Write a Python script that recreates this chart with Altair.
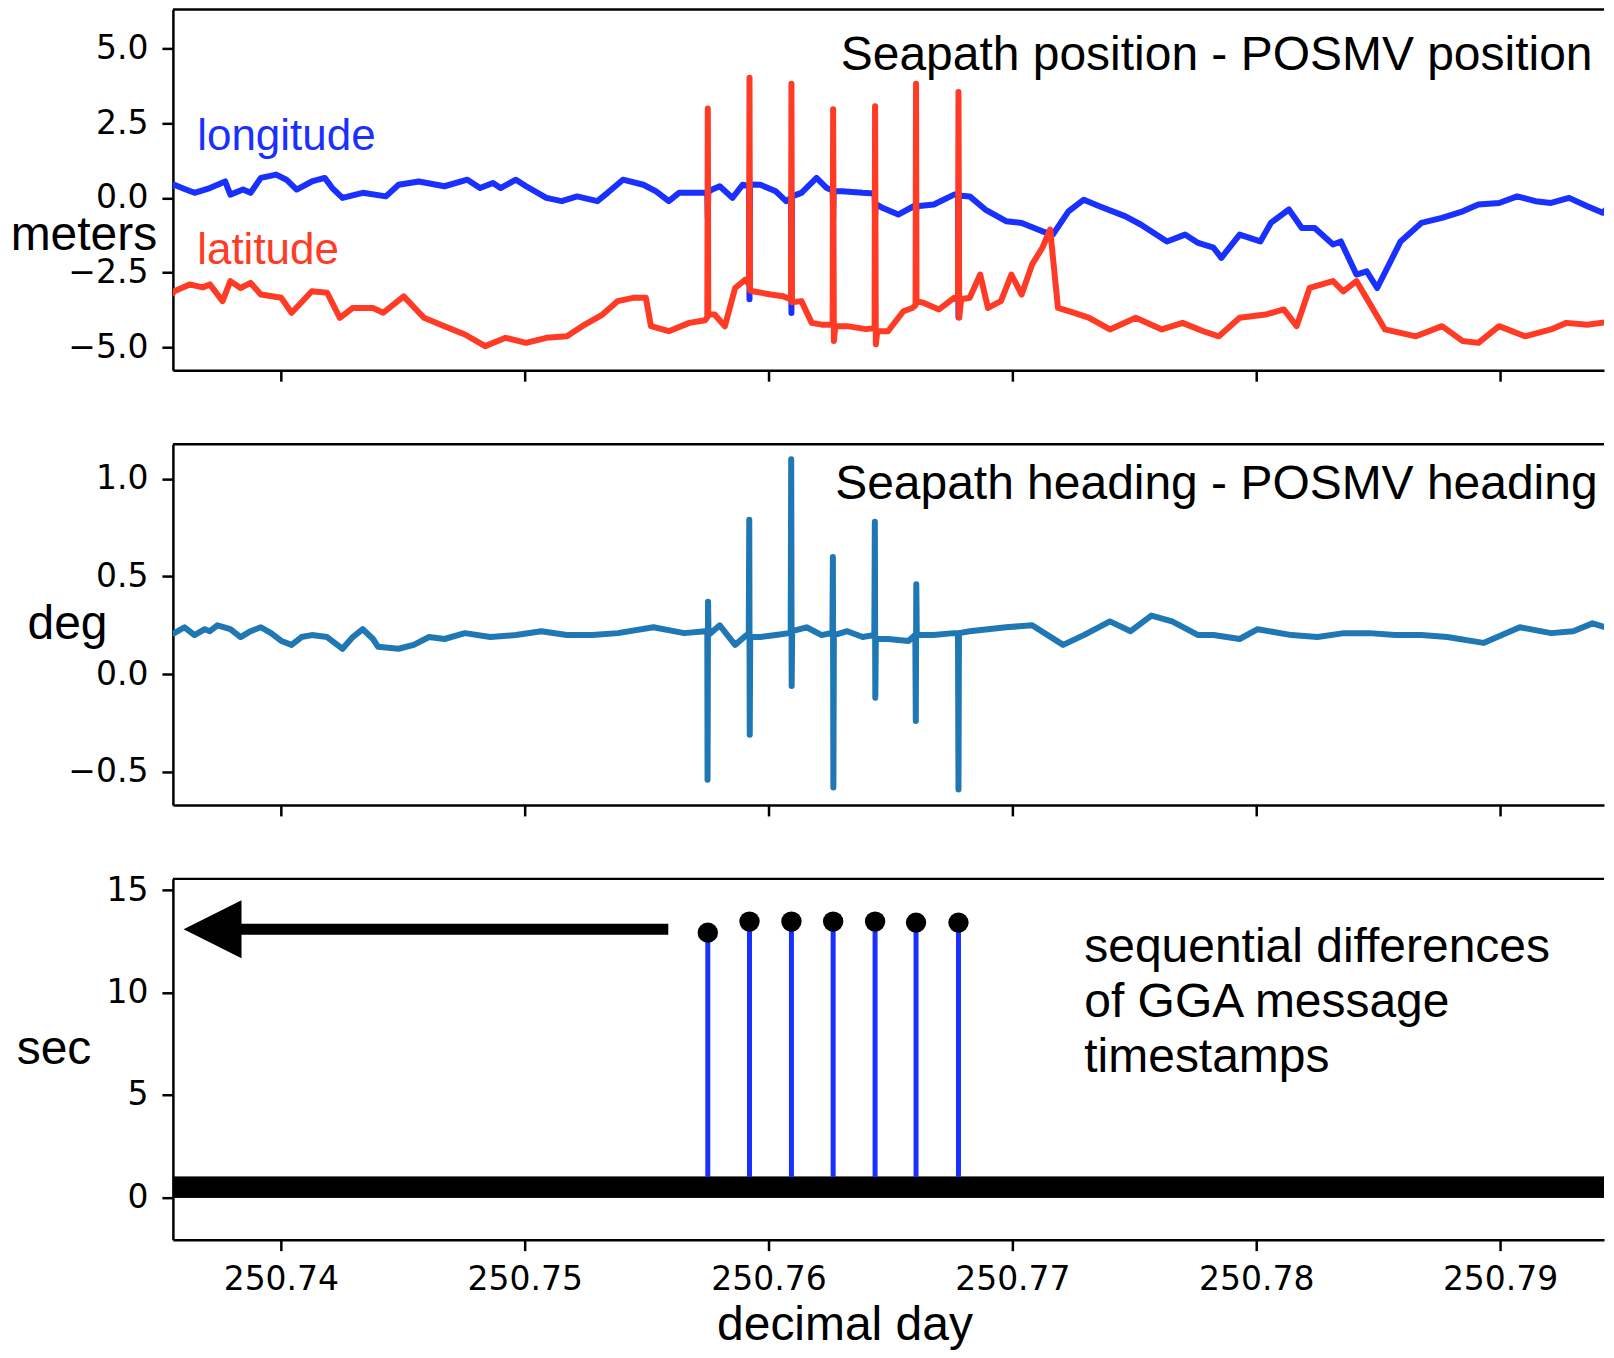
import altair as alt
import pandas as pd

# ---------------- data ----------------
W, H = 1432, 361
X_MIN = 250.735574
X_MAX = X_MIN + W / 24400.0   # 244 px per 0.01 day, as in the reference
x_ticks = [250.74, 250.75, 250.76, 250.77, 250.78, 250.79]

# longitude difference (m)
lon_t = [250.73557, 250.73563, 250.73605, 250.73646, 250.73709, 250.73772, 250.73793, 250.73845,
         250.73876, 250.73918, 250.73981, 250.74023, 250.74065, 250.74127, 250.74180, 250.74211,
         250.74253, 250.74336, 250.74431, 250.74483, 250.74566, 250.74671, 250.74765, 250.74817,
         250.74870, 250.74901, 250.74964, 250.75006, 250.75089, 250.75152, 250.75215, 250.75298,
         250.75340, 250.75403, 250.75487, 250.75539, 250.75591, 250.75633, 250.75717,
         250.75749, 250.75751, 250.75753,
         250.75769, 250.75800, 250.75852, 250.75894,
         250.75920, 250.75922, 250.75924,
         250.75967, 250.76030, 250.76072,
         250.76092, 250.76094, 250.76096,
         250.76135, 250.76197, 250.76239,
         250.76263, 250.76265, 250.76267,
         250.76302, 250.76386,
         250.76435, 250.76437, 250.76439,
         250.76469, 250.76532, 250.76595,
         250.76603, 250.76605, 250.76607,
         250.76678, 250.76761,
         250.76777, 250.76779, 250.76781,
         250.76825, 250.76889, 250.76974, 250.77038, 250.77123, 250.77166, 250.77230, 250.77293,
         250.77357, 250.77464, 250.77528, 250.77634, 250.77708, 250.77762, 250.77825, 250.77857,
         250.77932, 250.78017, 250.78060, 250.78134, 250.78187, 250.78240, 250.78315, 250.78347,
         250.78411, 250.78453, 250.78496, 250.78592, 250.78677, 250.78762, 250.78847, 250.78911,
         250.78996, 250.79070, 250.79145, 250.79209, 250.79283, 250.79358, 250.79421, 250.79460]
lon_v = [0.40, 0.44, 0.30, 0.17, 0.33, 0.55, 0.11, 0.28,
         0.17, 0.67, 0.78, 0.61, 0.28, 0.55, 0.67, 0.33,
         0.00, 0.17, 0.05, 0.44, 0.55, 0.39, 0.61, 0.33,
         0.50, 0.33, 0.61, 0.39, 0.00, -0.11, 0.05, -0.11,
         0.17, 0.61, 0.44, 0.22, -0.11, 0.17, 0.17,
         0.17, -0.67, 0.20,
         0.28, 0.39, 0.00, 0.44,
         0.40, -3.40, 0.45,
         0.44, 0.22, -0.11,
         0.00, -3.86, 0.05,
         0.17, 0.67, 0.33,
         0.25, -0.70, 0.22,
         0.22, 0.17,
         0.15, -0.67, -0.20,
         -0.34, -0.56, -0.28,
         -0.28, -0.50, -0.28,
         -0.22, 0.11,
         0.11, -4.00, 0.08,
         0.05, -0.39, -0.78, -0.84, -1.12, -1.23, -0.45, -0.06,
         -0.28, -0.62, -0.90, -1.46, -1.23, -1.51, -1.67, -2.01,
         -1.23, -1.46, -0.84, -0.39, -1.01, -1.01, -1.56, -1.46,
         -2.57, -2.46, -3.02, -1.46, -0.84, -0.67, -0.45, -0.22,
         -0.17, 0.05, -0.11, -0.17, 0.00, -0.28, -0.50, -0.17]

# latitude difference (m)
lat_t = [250.73557, 250.73563, 250.73626, 250.73680, 250.73709, 250.73761, 250.73793, 250.73835,
         250.73876, 250.73918, 250.74002, 250.74044, 250.74085, 250.74127, 250.74190, 250.74242,
         250.74295, 250.74378, 250.74420, 250.74504, 250.74587, 250.74671, 250.74755, 250.74838,
         250.74922, 250.75006, 250.75089, 250.75173, 250.75236, 250.75319, 250.75382, 250.75445,
         250.75497, 250.75518, 250.75591, 250.75675, 250.75740,
         250.75749, 250.75751, 250.75753,
         250.75779, 250.75821, 250.75863, 250.75905, 250.75920,
         250.75922, 250.75924,
         250.75936, 250.76009, 250.76060, 250.76092,
         250.76094, 250.76096,
         250.76135, 250.76177, 250.76218, 250.76263,
         250.76265, 250.76268, 250.76274,
         250.76323, 250.76400, 250.76435,
         250.76437, 250.76440, 250.76446,
         250.76490, 250.76553, 250.76590, 250.76603,
         250.76605, 250.76607,
         250.76637, 250.76699, 250.76761, 250.76777,
         250.76779, 250.76782, 250.76790,
         250.76825, 250.76868, 250.76900, 250.76953, 250.76996, 250.77038, 250.77081, 250.77123,
         250.77155, 250.77187, 250.77251, 250.77315, 250.77400, 250.77506, 250.77613, 250.77698,
         250.77783, 250.77847, 250.77932, 250.78038, 250.78113, 250.78166, 250.78219, 250.78315,
         250.78357, 250.78411, 250.78464, 250.78528, 250.78655, 250.78762, 250.78847, 250.78911,
         250.78996, 250.79102, 250.79209, 250.79272, 250.79358, 250.79460]
lat_v = [-3.20, -3.13, -2.90, -3.00, -2.90, -3.46, -2.79, -3.02,
         -2.85, -3.24, -3.35, -3.85, -3.50, -3.13, -3.18, -4.02,
         -3.69, -3.69, -3.85, -3.30, -4.02, -4.30, -4.58, -4.97,
         -4.69, -4.86, -4.69, -4.64, -4.30, -3.91, -3.46, -3.35,
         -3.35, -4.30, -4.47, -4.19, -4.10,
         -4.00, 3.00, -3.90,
         -3.91, -4.30, -3.02, -2.74, -2.90,
         4.03, -3.10,
         -3.13, -3.24, -3.30, -3.40,
         3.83, -3.50,
         -3.46, -4.19, -4.25, -4.25,
         2.97, -4.80, -4.30,
         -4.30, -4.40, -4.36,
         3.07, -4.91, -4.47,
         -4.47, -3.80, -3.69, -3.60,
         3.83, -3.46,
         -3.52, -3.74, -3.35, -3.40,
         3.55, -4.02, -3.40,
         -3.35, -2.57, -3.69, -3.46, -2.57, -3.24, -2.23, -1.67,
         -1.06, -3.69, -3.85, -4.02, -4.41, -4.02, -4.41, -4.19,
         -4.47, -4.64, -4.02, -3.91, -3.74, -4.30, -3.02, -2.79,
         -3.13, -2.79, -3.52, -4.41, -4.64, -4.30, -4.80, -4.86,
         -4.30, -4.64, -4.41, -4.19, -4.25, -4.14]

# heading difference (deg)
hdg_t = [250.73557, 250.73563, 250.73605, 250.73646, 250.73688, 250.73709, 250.73740, 250.73793,
         250.73835, 250.73876, 250.73918, 250.73960, 250.74002, 250.74044, 250.74085, 250.74127,
         250.74190, 250.74253, 250.74295, 250.74336, 250.74378, 250.74399, 250.74483, 250.74545,
         250.74608, 250.74671, 250.74755, 250.74859, 250.74964, 250.75068, 250.75173, 250.75277,
         250.75382, 250.75528, 250.75654, 250.75740,
         250.75749, 250.75750, 250.75752, 250.75754,
         250.75800, 250.75863, 250.75910,
         250.75919, 250.75921, 250.75923, 250.75925,
         250.75967, 250.76030, 250.76085,
         250.76091, 250.76093, 250.76095, 250.76097,
         250.76156, 250.76218, 250.76255,
         250.76262, 250.76264, 250.76266, 250.76268,
         250.76323, 250.76386, 250.76430,
         250.76434, 250.76436, 250.76438, 250.76440,
         250.76490, 250.76574, 250.76600,
         250.76602, 250.76604, 250.76606, 250.76608,
         250.76676, 250.76760,
         250.76777, 250.76779, 250.76781,
         250.76825, 250.76900, 250.76974, 250.77081, 250.77208, 250.77293, 250.77400, 250.77485,
         250.77570, 250.77655, 250.77762, 250.77825, 250.77932, 250.78006, 250.78145, 250.78251,
         250.78360, 250.78464, 250.78570, 250.78677, 250.78783, 250.78932, 250.79081, 250.79209,
         250.79300, 250.79379, 250.79460]
hdg_v = [0.21, 0.21, 0.24, 0.20, 0.23, 0.22, 0.25, 0.23,
         0.19, 0.22, 0.24, 0.21, 0.17, 0.15, 0.19, 0.20,
         0.19, 0.13, 0.19, 0.23, 0.18, 0.14, 0.13, 0.15,
         0.19, 0.18, 0.21, 0.19, 0.20, 0.22, 0.20, 0.20,
         0.21, 0.24, 0.21, 0.22,
         0.21, -0.54, 0.37, 0.20,
         0.25, 0.15, 0.20,
         0.20, 0.79, -0.31, 0.19,
         0.19, 0.20, 0.21,
         0.22, 1.10, -0.06, 0.22,
         0.24, 0.20, 0.21,
         0.21, 0.60, -0.58, 0.20,
         0.22, 0.19, 0.20,
         0.20, 0.78, -0.12, 0.18,
         0.18, 0.17, 0.20,
         0.20, -0.24, 0.46, 0.20,
         0.20, 0.21,
         0.21, -0.59, 0.21,
         0.22, 0.23, 0.24, 0.25, 0.15, 0.20, 0.27, 0.22,
         0.30, 0.27, 0.20, 0.20, 0.18, 0.23, 0.20, 0.19,
         0.21, 0.21, 0.20, 0.20, 0.19, 0.16, 0.24, 0.21,
         0.22, 0.26, 0.23]

# GGA timestamp gaps (s)
gap_t = [250.75751, 250.75922, 250.76094, 250.76265, 250.76437, 250.76605, 250.76779]
gap_v = [12.93, 13.47, 13.47, 13.47, 13.47, 13.42, 13.42]
gap_base = 1.0
normal_dt = [0.0, 1.0]

# ---------------- styling helpers ----------------
TXT = "Liberation Sans"
BLUE = "#1a30ff"
RED = "#ff3a25"

xscale = alt.Scale(domain=[X_MIN, X_MAX], nice=False, zero=False)

def x_enc(show_labels):
    if show_labels:
        ax = alt.Axis(values=x_ticks, format=".2f", labels=True, labelPadding=13,
                      title="decimal day", titleX=672, titleY=100, titleAlign="center",
                      titleBaseline="alphabetic", titleFont=TXT, titleFontSize=48,
                      titleFontWeight="normal", titleColor="black")
    else:
        ax = alt.Axis(values=x_ticks, labels=False, title=None)
    return alt.X("t:Q", scale=xscale, axis=ax)

def y_enc(domain, ticks, fmt, title, tx, ty):
    return alt.Y("v:Q", scale=alt.Scale(domain=domain, nice=False, zero=False),
                 axis=alt.Axis(values=ticks, format=fmt, title=title, titleAngle=0,
                               titleX=tx, titleY=ty, titleAlign="center",
                               titleBaseline="alphabetic", titleFont=TXT, titleFontSize=48,
                               titleFontWeight="normal", titleColor="black", labelPadding=14))

def top_border():
    return alt.Chart(pd.DataFrame({"k": [0]})).mark_rule(color="black", strokeWidth=2.5).encode(
        y=alt.value(0))

LINE = dict(strokeWidth=6, clip=True, strokeJoin="round", strokeCap="round")

# ---------------- panel 1 ----------------
X1 = x_enc(False)
Y1 = y_enc([-5.776, 6.318], [-5.0, -2.5, 0.0, 2.5, 5.0], ".1f", "meters", -89.5, 240)
lon = alt.Chart(pd.DataFrame({"t": lon_t, "v": lon_v})).mark_line(
    color=BLUE, **LINE).encode(x=X1, y=Y1)
lat = alt.Chart(pd.DataFrame({"t": lat_t, "v": lat_v})).mark_line(
    color=RED, **LINE).encode(x=X1, y=Y1)
title1 = alt.Chart(pd.DataFrame({"t": [250.79379], "v": [4.30],
                                 "s": ["Seapath position - POSMV position"]})).mark_text(
    align="right", baseline="alphabetic", font=TXT, fontSize=48, color="black").encode(
    x=X1, y=Y1, text="s:N")
leg_lon = alt.Chart(pd.DataFrame({"t": [250.73657], "v": [1.62], "s": ["longitude"]})).mark_text(
    align="left", baseline="alphabetic", font=TXT, fontSize=44, color=BLUE).encode(
    x=X1, y=Y1, text="s:N")
leg_lat = alt.Chart(pd.DataFrame({"t": [250.73657], "v": [-2.23], "s": ["latitude"]})).mark_text(
    align="left", baseline="alphabetic", font=TXT, fontSize=44, color=RED).encode(
    x=X1, y=Y1, text="s:N")
p1 = alt.layer(lon, lat, title1, leg_lon, leg_lat, top_border()).properties(width=W, height=H)

# ---------------- panel 2 ----------------
X2 = x_enc(False)
Y2 = y_enc([-0.669, 1.177], [-0.5, 0.0, 0.5, 1.0], ".1f", "deg", -106, 194)
hdg = alt.Chart(pd.DataFrame({"t": hdg_t, "v": hdg_v})).mark_line(
    color="#1f77b4", **LINE).encode(x=X2, y=Y2)
title2 = alt.Chart(pd.DataFrame({"t": [250.79400], "v": [0.894],
                                 "s": ["Seapath heading - POSMV heading"]})).mark_text(
    align="right", baseline="alphabetic", font=TXT, fontSize=48, color="black").encode(
    x=X2, y=Y2, text="s:N")
p2 = alt.layer(hdg, title2, top_border()).properties(width=W, height=H)

# ---------------- panel 3 ----------------
X3 = x_enc(True)
Y3 = y_enc([-2.064, 15.555], [0, 5, 10, 15], "d", "sec", -119.5, 185)
band = alt.Chart(pd.DataFrame({"t": [X_MIN], "t2": [X_MAX], "v": [normal_dt[0]],
                               "v2": [normal_dt[1]]})).mark_rect(
    color="black", stroke="black", strokeWidth=1, clip=True).encode(
    x=X3, x2="t2:Q", y=Y3, y2="v2:Q")
gap_df = pd.DataFrame({"t": gap_t, "v": [gap_base] * len(gap_t), "v2": gap_v})
stems = alt.Chart(gap_df).mark_rule(color=BLUE, strokeWidth=5).encode(x=X3, y=Y3, y2="v2:Q")
dots = alt.Chart(pd.DataFrame({"t": gap_t, "v": gap_v})).mark_point(
    shape="circle", filled=True, size=415, color="black", opacity=1).encode(x=X3, y=Y3)
arrow_shaft = alt.Chart(pd.DataFrame({"t": [250.73720], "t2": [250.75589], "v": [13.09]})).mark_rule(
    color="black", strokeWidth=11, strokeCap="butt").encode(x=X3, x2="t2:Q", y=Y3)
arrow_head = alt.Chart(pd.DataFrame({"t": [250.73720], "v": [13.09]})).mark_point(
    shape="M -1 0 L 1 -1 L 1 1 Z", filled=True, size=3364, color="black", opacity=1,
    strokeWidth=0).encode(x=X3, y=Y3)
note = alt.Chart(pd.DataFrame({"t": [250.77295] * 3, "v": [11.48, 8.81, 6.14],
                               "s": ["sequential differences", "of GGA message", "timestamps"]})).mark_text(
    align="left", baseline="alphabetic", font=TXT, fontSize=48, color="black").encode(
    x=X3, y=Y3, text="s:N")
p3 = alt.layer(band, stems, dots, arrow_shaft, arrow_head, note, top_border()).properties(
    width=W, height=H)

chart = alt.vconcat(p1, p2, p3, spacing=74, bounds="flush").properties(
    padding={"left": 2, "top": -1, "right": 0, "bottom": 0}
).configure_view(stroke=None).configure_axis(
    domainColor="black", domainWidth=2.5, tickColor="black", tickWidth=2.5, tickSize=11,
    grid=False, labelFont="DejaVu Sans", labelFontSize=33, labelColor="black"
)

chart.save("out.html", embed_options={"renderer": "svg", "actions": False})
